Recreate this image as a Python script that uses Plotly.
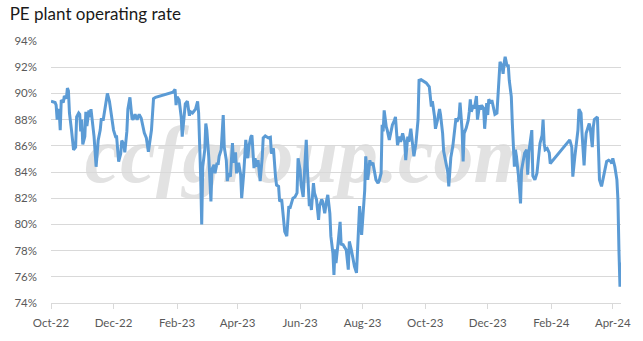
import plotly.graph_objects as go

title_text = "PE plant operating rate"
watermark_text = "ccfgroup.com"

dates = [
    "2022-10-01", "2022-10-05", "2022-10-06", "2022-10-07", "2022-10-08", "2022-10-09", "2022-10-10", "2022-10-11",
    "2022-10-13", "2022-10-14", "2022-10-16", "2022-10-17", "2022-10-18", "2022-10-19", "2022-10-21", "2022-10-23",
    "2022-10-25", "2022-10-26", "2022-10-28", "2022-10-29", "2022-10-30", "2022-10-31", "2022-11-01", "2022-11-03",
    "2022-11-04", "2022-11-05", "2022-11-07", "2022-11-08", "2022-11-09", "2022-11-11", "2022-11-12", "2022-11-14",
    "2022-11-16", "2022-11-18", "2022-11-19", "2022-11-21", "2022-11-23", "2022-11-25", "2022-11-27", "2022-11-29",
    "2022-12-01", "2022-12-03", "2022-12-04", "2022-12-06", "2022-12-08", "2022-12-09", "2022-12-11", "2022-12-12",
    "2022-12-14", "2022-12-15", "2022-12-17", "2022-12-19", "2022-12-20", "2022-12-22", "2022-12-24", "2022-12-26",
    "2022-12-28", "2022-12-31", "2023-01-02", "2023-01-04", "2023-01-06", "2023-01-07", "2023-01-09", "2023-01-11",
    "2023-01-28", "2023-01-30", "2023-01-31", "2023-02-01", "2023-02-03", "2023-02-05", "2023-02-06", "2023-02-08",
    "2023-02-09", "2023-02-11", "2023-02-13", "2023-02-14", "2023-02-16", "2023-02-17", "2023-02-19", "2023-02-21",
    "2023-02-22", "2023-02-24", "2023-02-25", "2023-02-26", "2023-02-28", "2023-03-01", "2023-03-02", "2023-03-04",
    "2023-03-06", "2023-03-07", "2023-03-09", "2023-03-10", "2023-03-12", "2023-03-13", "2023-03-14", "2023-03-16",
    "2023-03-17", "2023-03-18", "2023-03-19", "2023-03-21", "2023-03-22", "2023-03-23", "2023-03-25", "2023-03-27",
    "2023-03-28", "2023-03-30", "2023-03-31", "2023-04-02", "2023-04-04", "2023-04-05", "2023-04-07", "2023-04-08",
    "2023-04-09", "2023-04-11", "2023-04-12", "2023-04-14", "2023-04-15", "2023-04-17", "2023-04-18", "2023-04-20",
    "2023-04-21", "2023-04-23", "2023-04-25", "2023-04-26", "2023-04-28", "2023-05-01", "2023-05-03", "2023-05-04",
    "2023-05-06", "2023-05-08", "2023-05-09", "2023-05-11", "2023-05-12", "2023-05-14", "2023-05-16", "2023-05-17",
    "2023-05-19", "2023-05-21", "2023-05-22", "2023-05-24", "2023-05-25", "2023-05-27", "2023-05-29", "2023-05-30",
    "2023-06-01", "2023-06-02", "2023-06-04", "2023-06-06", "2023-06-07", "2023-06-08", "2023-06-10", "2023-06-11",
    "2023-06-12", "2023-06-14", "2023-06-15", "2023-06-17", "2023-06-19", "2023-06-20", "2023-06-22", "2023-06-23",
    "2023-06-25", "2023-06-27", "2023-06-28", "2023-06-30", "2023-07-01", "2023-07-03", "2023-07-04", "2023-07-05",
    "2023-07-06", "2023-07-08", "2023-07-10", "2023-07-11", "2023-07-13", "2023-07-14", "2023-07-16", "2023-07-18",
    "2023-07-19", "2023-07-21", "2023-07-22", "2023-07-24", "2023-07-26", "2023-07-27", "2023-07-29", "2023-07-31",
    "2023-08-01", "2023-08-03", "2023-08-04", "2023-08-06", "2023-08-08", "2023-08-09", "2023-08-11", "2023-08-13",
    "2023-08-14", "2023-08-16", "2023-08-17", "2023-08-19", "2023-08-20", "2023-08-21", "2023-08-22", "2023-08-24",
    "2023-08-25", "2023-08-27", "2023-08-29", "2023-08-30", "2023-09-01", "2023-09-02", "2023-09-04", "2023-09-06",
    "2023-09-07", "2023-09-09", "2023-09-11", "2023-09-12", "2023-09-14", "2023-09-15", "2023-09-17", "2023-09-19",
    "2023-09-20", "2023-09-22", "2023-09-24", "2023-09-25", "2023-09-27", "2023-10-02", "2023-10-05", "2023-10-07",
    "2023-10-08", "2023-10-10", "2023-10-11", "2023-10-13", "2023-10-15", "2023-10-16", "2023-10-18", "2023-10-19",
    "2023-10-21", "2023-10-23", "2023-10-24", "2023-10-25", "2023-10-26", "2023-10-28", "2023-10-30", "2023-10-31",
    "2023-11-01", "2023-11-03", "2023-11-04", "2023-11-06", "2023-11-07", "2023-11-08", "2023-11-10", "2023-11-12",
    "2023-11-13", "2023-11-14", "2023-11-15", "2023-11-17", "2023-11-18", "2023-11-20", "2023-11-21", "2023-11-23",
    "2023-11-24", "2023-11-25", "2023-11-27", "2023-11-28", "2023-11-30", "2023-12-01", "2023-12-02", "2023-12-04",
    "2023-12-05", "2023-12-07", "2023-12-08", "2023-12-10", "2023-12-12", "2023-12-13", "2023-12-15", "2023-12-16",
    "2023-12-17", "2023-12-18", "2023-12-20", "2023-12-21", "2023-12-22", "2023-12-24", "2023-12-25", "2023-12-26",
    "2023-12-27", "2023-12-28", "2023-12-29", "2023-12-31", "2024-01-02", "2024-01-03", "2024-01-05", "2024-01-06",
    "2024-01-08", "2024-01-09", "2024-01-10", "2024-01-12", "2024-01-13", "2024-01-14", "2024-01-16", "2024-01-18",
    "2024-01-19", "2024-01-21", "2024-01-23", "2024-01-24", "2024-01-25", "2024-01-26", "2024-01-28", "2024-01-30",
    "2024-01-31", "2024-02-19", "2024-02-21", "2024-02-22", "2024-02-24", "2024-02-25", "2024-02-27", "2024-02-28",
    "2024-03-01", "2024-03-02", "2024-03-04", "2024-03-05", "2024-03-06", "2024-03-08", "2024-03-09", "2024-03-10",
    "2024-03-12", "2024-03-13", "2024-03-14", "2024-03-17", "2024-03-18", "2024-03-19", "2024-03-21", "2024-03-22",
    "2024-03-24", "2024-03-26", "2024-03-28", "2024-03-30", "2024-03-31", "2024-04-01", "2024-04-03", "2024-04-05",
    "2024-04-06", "2024-04-07", "2024-04-08", "2024-04-09",
]

rates = [
    89.4, 89.3, 89.1, 88.0, 88.8, 88.6, 87.2, 89.5,
    89.3, 89.8, 89.6, 90.4, 90.2, 88.5, 87.2, 85.7,
    85.9, 88.2, 88.5, 88.4, 87.1, 88.0, 86.1, 86.7,
    88.6, 87.5, 88.7, 88.2, 88.8, 87.5, 86.7, 84.4,
    86.4, 87.2, 88.0, 88.0, 89.2, 90.0, 89.4, 88.2,
    87.2, 86.7, 86.7, 84.8, 85.4, 86.4, 86.1, 85.5,
    87.1, 88.8, 89.7, 88.1, 88.0, 88.4, 88.0, 88.4,
    88.1, 87.0, 86.6, 85.55, 86.7, 87.2, 89.6, 89.7,
    90.1, 90.3, 89.1, 89.75, 89.5, 88.2, 86.7, 88.7,
    89.2, 89.4, 88.3, 88.6, 88.5, 88.6, 88.8, 89.4,
    88.5, 83.65, 80.0, 84.4, 85.7, 87.7, 87.2, 85.0,
    81.75, 84.2, 84.55, 83.9, 84.7, 84.55, 85.2, 85.7,
    87.3, 88.35, 85.9, 84.9, 83.3, 83.9, 83.65, 86.2,
    84.7, 85.5, 83.9, 84.7, 83.8, 82.0, 83.9, 85.05,
    86.45, 85.05, 85.95, 86.7, 86.8, 84.3, 85.05, 84.4,
    84.9, 83.3, 85.05, 86.6, 86.75, 86.6, 86.65, 85.4,
    85.8, 83.65, 83.0, 82.9, 81.75, 81.9, 80.1, 79.45,
    79.1, 81.4, 81.2, 81.75, 82.0, 82.1, 82.4, 85.05,
    84.15, 83.0, 82.1, 85.05, 86.45, 84.4, 81.4, 81.9,
    81.1, 83.15, 82.4, 81.9, 80.35, 81.4, 81.9, 81.75,
    80.85, 81.9, 82.25, 80.85, 79.1, 77.8, 76.15, 78.1,
    77.05, 78.55, 80.2, 78.5, 78.45, 78.3, 78.05, 76.55,
    78.7, 78.05, 77.55, 76.8, 76.3, 78.05, 81.4, 79.2,
    80.6, 82.6, 85.2, 83.4, 84.9, 84.55, 84.7, 83.9,
    83.4, 83.15, 83.3, 83.9, 87.6, 87.1, 88.7, 87.45,
    87.2, 86.45, 87.2, 87.6, 87.95, 88.2, 86.05, 86.7,
    86.3, 86.95, 86.3, 84.9, 86.7, 86.3, 87.3, 85.7,
    85.2, 86.2, 87.95, 91.0, 91.05, 90.8, 90.5, 89.0,
    89.4, 88.3, 87.3, 87.95, 88.8, 88.35, 86.95, 85.6,
    84.8, 84.0, 82.9, 84.15, 85.1, 86.0, 87.85, 88.1,
    87.85, 88.2, 89.3, 87.2, 84.8, 86.95, 87.35, 87.95,
    88.6, 89.55, 88.6, 89.1, 88.85, 89.8, 88.0, 89.1,
    88.75, 89.1, 88.85, 87.3, 89.25, 88.35, 89.55, 89.25,
    89.5, 88.6, 88.4, 88.5, 91.0, 92.4, 92.05, 91.5,
    92.3, 92.8, 92.05, 92.2, 91.0, 89.75, 87.7, 86.2,
    84.4, 85.7, 85.2, 83.7, 81.6, 84.15, 84.9, 85.45,
    85.7, 83.8, 85.45, 86.7, 87.2, 83.7, 83.4, 83.9,
    84.9, 86.2, 86.8, 88.0, 86.2, 85.7, 85.8, 85.45,
    84.65, 86.45, 85.9, 83.65, 85.2, 85.95, 87.2, 88.8,
    88.5, 86.95, 84.5, 85.95, 86.95, 87.45, 87.7, 87.35,
    85.9, 87.45, 88.0, 88.2, 85.95, 83.4, 82.9, 83.4,
    84.05, 84.8, 84.9, 84.8, 84.65, 85.05, 84.4, 83.4,
    81.9, 78.0, 75.25, 77.1,
]

tick_dates = ["2022-10-01", "2022-12-01", "2023-02-01", "2023-04-01", "2023-06-01",
              "2023-08-01", "2023-10-01", "2023-12-01", "2024-02-01", "2024-04-01"]
tick_labels = ["Oct-22", "Dec-22", "Feb-23", "Apr-23", "Jun-23",
               "Aug-23", "Oct-23", "Dec-23", "Feb-24", "Apr-24"]
y_ticks = [74, 76, 78, 80, 82, 84, 86, 88, 90, 92, 94]
y_labels = [f"{v}%" for v in y_ticks]

fig = go.Figure()
fig.add_trace(go.Scatter(
    x=dates, y=rates, mode="lines",
    line=dict(color="#5b9bd5", width=3),
    showlegend=False, hoverinfo="skip",
))

fig.add_shape(
    type="rect", xref="paper", yref="paper",
    x0=0.10, x1=0.81, y0=0.50, y1=0.70,
    line=dict(width=0), fillcolor="rgba(0,0,0,0)", layer="below",
    label=dict(text=watermark_text, textposition="middle center",
               font=dict(family="Liberation Serif", size=80, color="#e2e2e2",
                         style="italic", weight="bold")),
)

tick_font = dict(family="Lato, Liberation Sans, sans-serif", size=11.5, color="#595959")

fig.update_layout(
    width=643, height=341,
    margin=dict(l=51, r=18, t=41, b=38),
    paper_bgcolor="white", plot_bgcolor="white",
    title=dict(text=title_text, x=0.015, xanchor="left", y=0.96, yanchor="middle",
               font=dict(family="Lato, Liberation Sans, sans-serif", size=17, color="#1a1a1a")),
    xaxis=dict(
        type="date", range=["2022-10-01", "2024-04-09"],
        tickmode="array", tickvals=tick_dates, ticktext=tick_labels,
        showgrid=False, showline=True, linecolor="#d9d9d9", linewidth=1,
        ticks="outside", ticklen=5, tickcolor="#d9d9d9", tickwidth=1,
        tickfont=tick_font, zeroline=False, ticklabelstandoff=4,
    ),
    yaxis=dict(
        range=[74, 94], tickmode="array", tickvals=y_ticks, ticktext=y_labels,
        showgrid=True, gridcolor="#d9d9d9", gridwidth=1,
        showline=False, zeroline=False, ticks="",
        tickfont=tick_font, ticklabelstandoff=13,
    ),
)

fig.write_html("out.html")
